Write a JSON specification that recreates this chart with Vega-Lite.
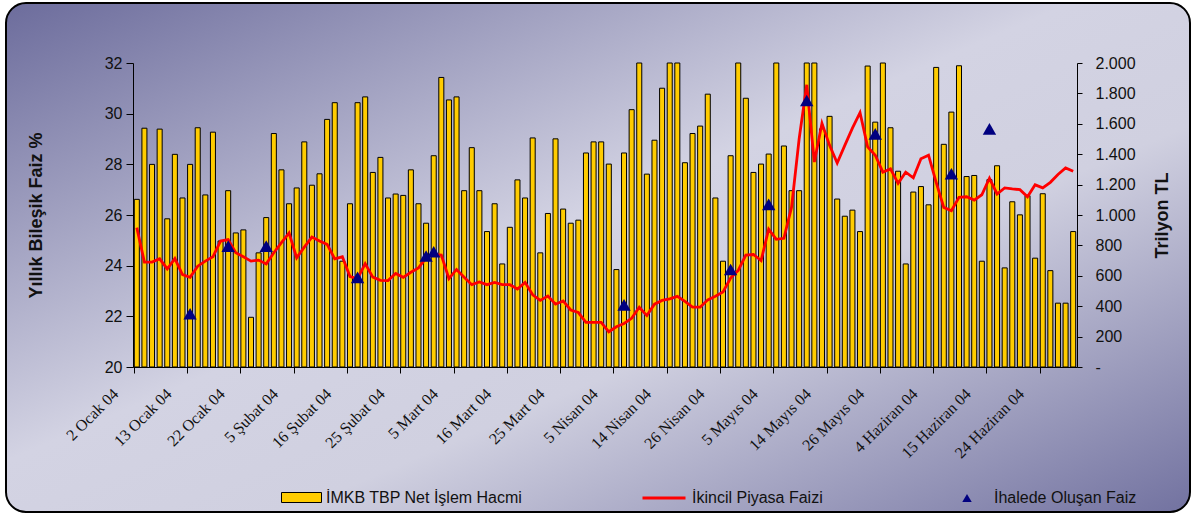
{
 "$schema": "https://vega.github.io/schema/vega-lite/v6.json",
 "autosize": {"type": "none"},
 "width": 1184,
 "height": 509,
 "padding": {"left": 6, "top": 3, "right": 4, "bottom": 4},
 "background": "#ffffff",
 "view": {
  "fill": {"gradient": "linear", "x1": 0, "y1": 0, "x2": 1, "y2": 1,
   "stops": [{"offset": 0, "color": "#6c6c9c"}, {"offset": 0.45, "color": "#d3d3e3"}, {"offset": 0.62, "color": "#d0d0e0"}, {"offset": 1, "color": "#7272a0"}]},
  "stroke": "#000", "strokeWidth": 2, "cornerRadius": 20
 },
 "config": {
  "font": "Liberation Sans",
  "axis": {"grid": false, "domainColor": "#000", "tickColor": "#000", "labelColor": "#111", "titleColor": "#111", "domainWidth": 1, "tickWidth": 1}
 },
 "data": {"values": [
  {"t": "2 Ocak 04", "vol": 1103, "rate": 25.50},
  {"t": "5 Ocak 04", "vol": 1571, "rate": 24.14},
  {"t": "6 Ocak 04", "vol": 1333, "rate": 24.14},
  {"t": "7 Ocak 04", "vol": 1565, "rate": 24.27},
  {"t": "8 Ocak 04", "vol": 975, "rate": 23.87},
  {"t": "9 Ocak 04", "vol": 1399, "rate": 24.28},
  {"t": "12 Ocak 04", "vol": 1112, "rate": 23.65},
  {"t": "13 Ocak 04", "vol": 1333, "rate": 23.54, "auction": 22.10},
  {"t": "14 Ocak 04", "vol": 1574, "rate": 23.98},
  {"t": "15 Ocak 04", "vol": 1132, "rate": 24.18},
  {"t": "16 Ocak 04", "vol": 1545, "rate": 24.35},
  {"t": "19 Ocak 04", "vol": 829, "rate": 24.97},
  {"t": "20 Ocak 04", "vol": 1160, "rate": 25.03, "auction": 24.77},
  {"t": "21 Ocak 04", "vol": 882, "rate": 24.51},
  {"t": "22 Ocak 04", "vol": 902, "rate": 24.35},
  {"t": "23 Ocak 04", "vol": 327, "rate": 24.18},
  {"t": "26 Ocak 04", "vol": 751, "rate": 24.22},
  {"t": "27 Ocak 04", "vol": 983, "rate": 24.07, "auction": 24.77},
  {"t": "28 Ocak 04", "vol": 1536, "rate": 24.51},
  {"t": "29 Ocak 04", "vol": 1297, "rate": 24.91},
  {"t": "30 Ocak 04", "vol": 1074, "rate": 25.29},
  {"t": "5 Şubat 04", "vol": 1178, "rate": 24.31},
  {"t": "6 Şubat 04", "vol": 1481, "rate": 24.73},
  {"t": "9 Şubat 04", "vol": 1196, "rate": 25.13},
  {"t": "10 Şubat 04", "vol": 1271, "rate": 24.97},
  {"t": "11 Şubat 04", "vol": 1629, "rate": 24.84},
  {"t": "12 Şubat 04", "vol": 1739, "rate": 24.27},
  {"t": "13 Şubat 04", "vol": 696, "rate": 24.35},
  {"t": "16 Şubat 04", "vol": 1074, "rate": 23.57},
  {"t": "17 Şubat 04", "vol": 1739, "rate": 23.49, "auction": 23.54},
  {"t": "18 Şubat 04", "vol": 1777, "rate": 24.08},
  {"t": "19 Şubat 04", "vol": 1280, "rate": 23.55},
  {"t": "20 Şubat 04", "vol": 1379, "rate": 23.42},
  {"t": "23 Şubat 04", "vol": 1112, "rate": 23.41},
  {"t": "24 Şubat 04", "vol": 1138, "rate": 23.69},
  {"t": "25 Şubat 04", "vol": 1129, "rate": 23.54},
  {"t": "26 Şubat 04", "vol": 1297, "rate": 23.74},
  {"t": "27 Şubat 04", "vol": 1074, "rate": 23.91},
  {"t": "1 Mart 04", "vol": 946, "rate": 24.31, "auction": 24.38},
  {"t": "2 Mart 04", "vol": 1390, "rate": 24.44, "auction": 24.55},
  {"t": "3 Mart 04", "vol": 1905, "rate": 24.42},
  {"t": "4 Mart 04", "vol": 1757, "rate": 23.49},
  {"t": "5 Mart 04", "vol": 1777, "rate": 23.85},
  {"t": "8 Mart 04", "vol": 1160, "rate": 23.54},
  {"t": "9 Mart 04", "vol": 1443, "rate": 23.25},
  {"t": "10 Mart 04", "vol": 1160, "rate": 23.36},
  {"t": "11 Mart 04", "vol": 891, "rate": 23.25},
  {"t": "12 Mart 04", "vol": 1074, "rate": 23.34},
  {"t": "15 Mart 04", "vol": 678, "rate": 23.25},
  {"t": "16 Mart 04", "vol": 919, "rate": 23.25},
  {"t": "17 Mart 04", "vol": 1231, "rate": 23.08},
  {"t": "18 Mart 04", "vol": 1112, "rate": 23.34},
  {"t": "19 Mart 04", "vol": 1507, "rate": 22.85},
  {"t": "22 Mart 04", "vol": 751, "rate": 22.63},
  {"t": "23 Mart 04", "vol": 1010, "rate": 22.80},
  {"t": "24 Mart 04", "vol": 1501, "rate": 22.48},
  {"t": "25 Mart 04", "vol": 1039, "rate": 22.61},
  {"t": "26 Mart 04", "vol": 946, "rate": 22.25},
  {"t": "29 Mart 04", "vol": 966, "rate": 22.15},
  {"t": "30 Mart 04", "vol": 1408, "rate": 21.76},
  {"t": "31 Mart 04", "vol": 1481, "rate": 21.76},
  {"t": "1 Nisan 04", "vol": 1481, "rate": 21.76},
  {"t": "2 Nisan 04", "vol": 1335, "rate": 21.39},
  {"t": "5 Nisan 04", "vol": 641, "rate": 21.59},
  {"t": "6 Nisan 04", "vol": 1408, "rate": 21.72, "auction": 22.45},
  {"t": "7 Nisan 04", "vol": 1693, "rate": 21.92},
  {"t": "8 Nisan 04", "vol": 2200, "rate": 22.36},
  {"t": "9 Nisan 04", "vol": 1269, "rate": 22.03},
  {"t": "12 Nisan 04", "vol": 1492, "rate": 22.48},
  {"t": "13 Nisan 04", "vol": 1834, "rate": 22.63},
  {"t": "14 Nisan 04", "vol": 2200, "rate": 22.69},
  {"t": "15 Nisan 04", "vol": 2200, "rate": 22.79},
  {"t": "16 Nisan 04", "vol": 1344, "rate": 22.59},
  {"t": "19 Nisan 04", "vol": 1536, "rate": 22.36},
  {"t": "20 Nisan 04", "vol": 1585, "rate": 22.36},
  {"t": "21 Nisan 04", "vol": 1795, "rate": 22.65},
  {"t": "22 Nisan 04", "vol": 1112, "rate": 22.79},
  {"t": "26 Nisan 04", "vol": 696, "rate": 22.96},
  {"t": "27 Nisan 04", "vol": 1390, "rate": 23.51, "auction": 23.85},
  {"t": "28 Nisan 04", "vol": 2200, "rate": 23.81},
  {"t": "29 Nisan 04", "vol": 1768, "rate": 24.42},
  {"t": "30 Nisan 04", "vol": 1280, "rate": 24.44},
  {"t": "3 Mayıs 04", "vol": 1335, "rate": 24.20},
  {"t": "4 Mayıs 04", "vol": 1401, "rate": 25.44, "auction": 26.42},
  {"t": "5 Mayıs 04", "vol": 2200, "rate": 25.04},
  {"t": "6 Mayıs 04", "vol": 1454, "rate": 25.08},
  {"t": "7 Mayıs 04", "vol": 1160, "rate": 26.30},
  {"t": "10 Mayıs 04", "vol": 1160, "rate": 29.00},
  {"t": "11 Mayıs 04", "vol": 2200, "rate": 31.14, "auction": 30.52},
  {"t": "12 Mayıs 04", "vol": 2200, "rate": 28.09},
  {"t": "13 Mayıs 04", "vol": 1567, "rate": 29.62},
  {"t": "14 Mayıs 04", "vol": 1649, "rate": 28.75},
  {"t": "17 Mayıs 04", "vol": 1105, "rate": 28.05},
  {"t": "18 Mayıs 04", "vol": 992, "rate": 28.75},
  {"t": "20 Mayıs 04", "vol": 1032, "rate": 29.43},
  {"t": "21 Mayıs 04", "vol": 891, "rate": 30.04},
  {"t": "24 Mayıs 04", "vol": 1980, "rate": 28.69},
  {"t": "25 Mayıs 04", "vol": 1611, "rate": 28.36, "auction": 29.20},
  {"t": "26 Mayıs 04", "vol": 2200, "rate": 27.69},
  {"t": "27 Mayıs 04", "vol": 1574, "rate": 27.82},
  {"t": "28 Mayıs 04", "vol": 1288, "rate": 27.25},
  {"t": "31 Mayıs 04", "vol": 678, "rate": 27.69},
  {"t": "1 Haziran 04", "vol": 1151, "rate": 27.47},
  {"t": "2 Haziran 04", "vol": 1187, "rate": 28.22},
  {"t": "3 Haziran 04", "vol": 1067, "rate": 28.36},
  {"t": "4 Haziran 04", "vol": 1971, "rate": 27.29},
  {"t": "7 Haziran 04", "vol": 1465, "rate": 26.30},
  {"t": "8 Haziran 04", "vol": 1677, "rate": 26.17, "auction": 27.63},
  {"t": "9 Haziran 04", "vol": 1982, "rate": 26.70},
  {"t": "10 Haziran 04", "vol": 1253, "rate": 26.72},
  {"t": "11 Haziran 04", "vol": 1260, "rate": 26.59},
  {"t": "14 Haziran 04", "vol": 696, "rate": 26.80},
  {"t": "15 Haziran 04", "vol": 1233, "rate": 27.45, "auction": 29.40},
  {"t": "16 Haziran 04", "vol": 1324, "rate": 26.83},
  {"t": "17 Haziran 04", "vol": 652, "rate": 27.07},
  {"t": "18 Haziran 04", "vol": 1087, "rate": 27.03},
  {"t": "21 Haziran 04", "vol": 1001, "rate": 27.00},
  {"t": "22 Haziran 04", "vol": 1127, "rate": 26.72},
  {"t": "23 Haziran 04", "vol": 716, "rate": 27.19},
  {"t": "24 Haziran 04", "vol": 1140, "rate": 27.07},
  {"t": "25 Haziran 04", "vol": 634, "rate": 27.29},
  {"t": "28 Haziran 04", "vol": 420, "rate": 27.60},
  {"t": "29 Haziran 04", "vol": 420, "rate": 27.86},
  {"t": "30 Haziran 04", "vol": 891, "rate": 27.73}
 ]},
 "encoding": {
  "x": {
   "field": "t", "type": "ordinal", "sort": null,
   "scale": {"range": [127, 1071], "paddingInner": 0.34, "paddingOuter": 0.17},
   "axis": {
    "title": null,
    "offset": -145,
    "values": ["2 Ocak 04", "13 Ocak 04", "22 Ocak 04", "5 Şubat 04", "16 Şubat 04", "25 Şubat 04", "5 Mart 04", "16 Mart 04", "25 Mart 04", "5 Nisan 04", "14 Nisan 04", "26 Nisan 04", "5 Mayıs 04", "14 Mayıs 04", "26 Mayıs 04", "4 Haziran 04", "15 Haziran 04", "24 Haziran 04"],
    "bandPosition": 0,
    "labelAngle": -45,
    "labelAlign": "right",
    "labelBaseline": "middle",
    "labelFont": "Liberation Serif",
    "labelFontSize": 16,
    "labelPadding": 18,
    "labelOffset": -21,
    "labelOverlap": false,
    "labelBound": false,
    "tickSize": 6
   }
  }
 },
 "layer": [
  {
   "mark": {"type": "bar", "stroke": "#000", "strokeWidth": 1},
   "encoding": {
    "y": {"field": "vol", "type": "quantitative", "scale": {"domain": [0, 2000], "nice": false, "clamp": true, "range": [364, 60]},
     "axis": {"orient": "right", "offset": -113, "title": "Trilyon TL", "values": [0, 200, 400, 600, 800, 1000, 1200, 1400, 1600, 1800, 2000],
      "labelExpr": "datum.value == 0 ? '-' : replace(format(datum.value, ','), ',', '.')",
      "labelFontSize": 16, "tickSize": 5, "labelPadding": 13,
      "titleFontSize": 18, "titleFontWeight": "bold", "titleAngle": -90, "titleBaseline": "top", "titlePadding": 18}},
    "fill": {"datum": "İMKB TBP Net İşlem Hacmi", "type": "nominal", "scale": {"range": ["#FFCC00"]},
     "legend": {"orient": "none", "legendX": 275, "legendY": 474, "title": null,
      "symbolType": "M-1,-0.25H1V0.25H-1Z", "symbolSize": 1600, "symbolStrokeColor": "#000", "symbolStrokeWidth": 1,
      "labelFontSize": 16, "labelOffset": 4, "labelColor": "#111", "labelLimit": 500}}
   }
  },
  {
   "mark": {"type": "line", "strokeWidth": 2.8},
   "encoding": {
    "y": {"field": "rate", "type": "quantitative", "scale": {"domain": [20, 32], "nice": false, "range": [364, 60]},
     "axis": {"orient": "left", "offset": -127, "title": "Yıllık Bileşik Faiz %", "values": [20, 22, 24, 26, 28, 30, 32],
      "labelFontSize": 16, "tickSize": 7, "labelPadding": 4,
      "titleFontSize": 18, "titleFontWeight": "bold", "titlePadding": 59}},
    "stroke": {"datum": "İkincil Piyasa Faizi", "type": "nominal", "scale": {"range": ["#FF0000"]},
     "legend": {"orient": "none", "legendX": 635, "legendY": 472, "title": null,
      "symbolType": "stroke", "symbolSize": 1849, "symbolStrokeWidth": 2.8,
      "labelFontSize": 16, "labelOffset": 5, "labelColor": "#111", "labelLimit": 500}}
   }
  },
  {
   "mark": {"type": "point", "filled": true, "color": "#000080", "size": 180, "opacity": 1},
   "encoding": {
    "y": {"field": "auction", "type": "quantitative", "scale": {"domain": [20, 32], "nice": false, "range": [364, 60]}, "axis": null},
    "shape": {"datum": "İhalede Oluşan Faiz", "type": "nominal", "scale": {"range": ["triangle-up"]},
     "legend": {"orient": "none", "legendX": 953, "legendY": 487, "title": null,
      "symbolSize": 90, "symbolFillColor": "#000080", "symbolStrokeColor": "#000080",
      "labelFontSize": 16, "labelOffset": 19, "labelColor": "#111", "labelLimit": 500}}
   }
  }
 ],
 "resolve": {"scale": {"y": "independent", "fill": "independent", "stroke": "independent", "shape": "independent"}}
}
